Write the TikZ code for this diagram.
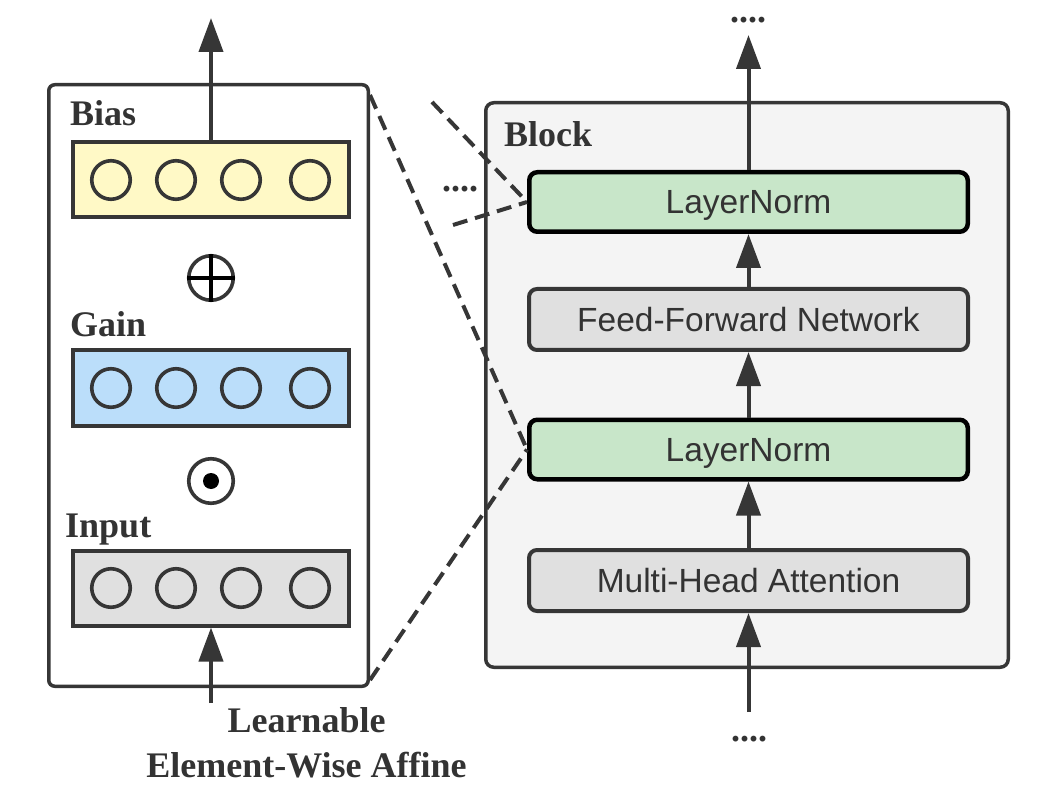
\documentclass[tikz,border=0pt]{standalone}
\usepackage{fontspec}
\setmainfont{Liberation Serif}
\newfontfamily\sansf{Liberation Sans}
\usetikzlibrary{arrows.meta}
\definecolor{stroke}{HTML}{363636}
\definecolor{txt}{HTML}{333333}
\definecolor{biasfill}{HTML}{FFF9C6}
\definecolor{gainfill}{HTML}{BBDEFA}
\definecolor{grayfill}{HTML}{E0E0E0}
\definecolor{blockfill}{HTML}{F4F4F4}
\definecolor{lnfill}{HTML}{C8E6C9}
\tikzset{
  panelbox/.style={draw=stroke, line width=3.5pt, rounded corners=6pt, inner sep=0pt},
  vecbox/.style={draw=stroke, line width=4pt, minimum width=276pt, minimum height=75pt, inner sep=0pt},
  unitc/.style={circle, draw=stroke, line width=3.6pt, minimum size=38.5pt, inner sep=0pt},
  opc/.style={circle, draw=stroke, line width=3.6pt, minimum size=44.5pt, inner sep=0pt},
  lbl/.style={font=\fontsize{36}{40}\selectfont\bfseries, text=txt, inner sep=0pt},
  dots/.style={font=\fontsize{36}{40}\selectfont\bfseries, text=txt, inner sep=0pt, anchor=base, text height=6pt, text depth=0pt},
  lnbox/.style={draw=black, line width=4.5pt, rounded corners=8pt, fill=lnfill, minimum width=438.5pt, minimum height=59.5pt, inner sep=0pt, font=\sansf\fontsize{33.5}{40}\selectfont, text=txt, text height=24pt, text depth=0pt},
  opbox/.style={draw=stroke, line width=4pt, rounded corners=8pt, fill=grayfill, minimum width=439pt, minimum height=61pt, inner sep=0pt, font=\sansf\fontsize{33.5}{40}\selectfont, text=txt, text height=24pt, text depth=0pt},
  flow/.style={draw=stroke, line width=4pt, -{Triangle[width=24pt,length=34pt]}},
  zoomline/.style={draw=stroke, line width=4pt, dash pattern=on 15pt off 8pt},
}
\begin{document}
\begin{tikzpicture}[x=1pt,y=-1pt]
\useasboundingbox (0,0) rectangle (1057,799);

% ---------- left panel ----------
\node[panelbox, fill=white, minimum width=319.5pt, minimum height=601.5pt] (panel) at (208.5,385.5) {};
\node[vecbox, fill=biasfill] (bias) at (211,180) {};
\node[vecbox, fill=gainfill] (gain) at (211,388) {};
\node[vecbox, fill=grayfill] (input) at (211,588) {};
\foreach \n/\x in {1/111,2/176,3/241,4/310}{
  \node[unitc] (b\n) at (\x,180) {};
  \node[unitc] (g\n) at (\x,388) {};
  \node[unitc] (i\n) at (\x,588) {};
}
\node[lbl, anchor=base west] (biaslbl) at (70,126) {Bias};
\node[lbl, anchor=base west] (gainlbl) at (70,337) {Gain};
\node[lbl, anchor=base west] (inputlbl) at (65,537) {Input};

\node[opc] (plus) at (211,278) {};
\draw[stroke, line width=3.6pt] (plus.north) -- (plus.south) (plus.west) -- (plus.east);
\node[opc] (odot) at (211,481) {};
\fill[black] (odot.center) circle (8pt);

\coordinate (outtop) at (211,18);
\draw[flow] (bias.north) -- (outtop);
\coordinate (inbot) at (211,703);
\draw[flow] (inbot) -- (input.south);

\node[lbl, anchor=base] (learn1) at (306.5,732) {Learnable};
\node[lbl, anchor=base] (learn2) at (306.5,777) {Element-Wise Affine};

% ---------- right block ----------
\node[panelbox, fill=blockfill, rounded corners=8pt, minimum width=522.5pt, minimum height=564.5pt] (block) at (747,385) {};
\node[lbl, anchor=base west] (blocklbl) at (504,147) {Block};

\node[lnbox] (ln1) at (748.5,202) {LayerNorm};
\node[opbox] (ffn) at (748.5,319.5) {Feed-Forward Network};
\node[lnbox] (ln2) at (748.5,449.5) {LayerNorm};
\node[opbox] (mha) at (748.5,580.5) {Multi-Head Attention};

\coordinate (rtop) at (748.5,35);
\coordinate (rbot) at (748.5,712);
\draw[flow] (ln1.north) -- (rtop);
\draw[flow] (ffn.north) -- (ln1.south);
\draw[flow] (ln2.north) -- (ffn.south);
\draw[flow] (mha.north) -- (ln2.south);
\draw[flow] (rbot) -- (mha.south);

\node[dots] (dtop) at (748,22.5) {....};
\node[dots] (dbot) at (749,741) {....};
\node[dots] (dleft) at (460,192) {....};

% ---------- zoom lines ----------
\coordinate (za) at (432,102);
\coordinate (zb) at (453,225);
\draw[zoomline] (za) -- (ln1.west);
\draw[zoomline] (zb) -- (ln1.west);
\draw[zoomline] ([yshift=-12pt]panel.north east) -- (ln2.west);
\draw[zoomline] ([yshift=8pt]panel.south east) -- (ln2.west);
\end{tikzpicture}
\end{document}
